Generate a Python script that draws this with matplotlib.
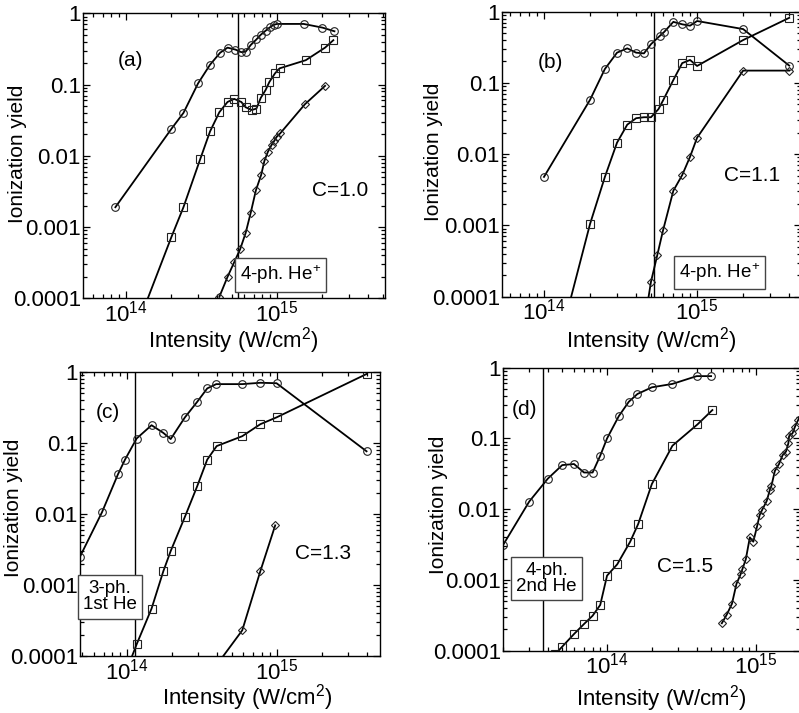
import matplotlib
matplotlib.use("Agg")
import matplotlib.pyplot as plt
from matplotlib.ticker import FixedFormatter, FixedLocator, LogLocator, NullFormatter

plt.rcParams["font.family"] = ["Liberation Sans", "DejaVu Sans"]
plt.rcParams["mathtext.fontset"] = "custom"
plt.rcParams["mathtext.rm"] = "Liberation Sans"
plt.rcParams["mathtext.it"] = "Liberation Sans:italic"

# ---- panel (a), C=1.0 ----
A_CIRC_X = [8.5e13, 2.0e14, 2.4e14, 3.0e14, 3.6e14, 4.2e14, 4.7e14, 5.3e14, 5.8e14, 6.2e14,
            6.7e14, 7.3e14, 7.8e14, 8.4e14, 9.0e14, 9.5e14, 1.0e15, 1.5e15, 2.0e15, 2.4e15]
A_CIRC_Y = [1.9e-3, 0.024, 0.040, 0.104, 0.19, 0.28, 0.33, 0.31, 0.285, 0.29,
            0.36, 0.43, 0.50, 0.57, 0.64, 0.69, 0.71, 0.71, 0.63, 0.56]
A_SQ_X = [1.3e14, 2.0e14, 2.4e14, 3.1e14, 3.6e14, 4.15e14, 4.7e14, 5.2e14, 5.8e14, 6.2e14,
          6.8e14, 7.3e14, 7.8e14, 8.4e14, 8.9e14, 9.7e14, 1.04e15, 1.55e15, 2.08e15, 2.36e15]
A_SQ_Y = [6.8e-5, 7.3e-4, 1.9e-3, 9.0e-3, 0.022, 0.041, 0.057, 0.063, 0.057, 0.048,
          0.044, 0.046, 0.065, 0.084, 0.109, 0.144, 0.169, 0.22, 0.33, 0.42]
A_DIA_X = [4.15e14, 4.7e14, 5.2e14, 5.7e14, 6.2e14, 6.7e14, 7.25e14, 7.85e14, 8.25e14,
           8.7e14, 9.2e14, 9.6e14, 9.95e14, 1.05e15, 1.53e15, 2.08e15]
A_DIA_Y = [1.05e-4, 2.0e-4, 3.2e-4, 4.9e-4, 8.3e-4, 1.6e-3, 3.3e-3, 5.4e-3, 8.5e-3,
           0.0114, 0.0142, 0.0163, 0.0185, 0.0207, 0.053, 0.096]
A_VLINE = 5.55e14

# ---- panel (b), C=1.1 ----
B_CIRC_X = [1.0e14, 2.0e14, 2.5e14, 3.0e14, 3.5e14, 4.0e14, 4.5e14, 5.0e14, 5.7e14, 6.1e14,
            7.0e14, 8.0e14, 9.0e14, 1.0e15, 2.0e15, 4.0e15]
B_CIRC_Y = [4.8e-3, 0.058, 0.157, 0.266, 0.306, 0.266, 0.26, 0.35, 0.456, 0.52,
            0.72, 0.665, 0.636, 0.74, 0.57, 0.175]
B_SQ_X = [1.41e14, 2.0e14, 2.5e14, 3.0e14, 3.5e14, 4.0e14, 4.5e14, 5.0e14, 5.6e14, 6.0e14,
          7.0e14, 8.0e14, 9.0e14, 1.0e15, 2.0e15, 4.0e15]
B_SQ_Y = [5.8e-5, 1.05e-3, 4.8e-3, 0.0145, 0.026, 0.032, 0.033, 0.033, 0.043, 0.057,
          0.11, 0.19, 0.21, 0.173, 0.40, 0.82]
B_DIA_X = [4.7e14, 5.0e14, 5.5e14, 6.0e14, 7.0e14, 8.0e14, 9.0e14, 1.0e15, 2.0e15, 4.0e15]
B_DIA_Y = [7.0e-5, 1.62e-4, 3.85e-4, 8.6e-4, 3.07e-3, 5.1e-3, 9.2e-3, 0.017, 0.149, 0.149]
B_VLINE = 5.26e14

# ---- panel (c), C=1.3 ----
C_CIRC_X = [4.85e13, 6.8e13, 8.7e13, 9.7e13, 1.16e14, 1.46e14, 1.75e14, 1.96e14, 2.44e14,
            2.95e14, 3.44e14, 3.95e14, 5.9e14, 7.8e14, 1.0e15, 4.0e15]
C_CIRC_Y = [2.5e-3, 0.0105, 0.036, 0.058, 0.115, 0.177, 0.138, 0.113, 0.228,
            0.378, 0.583, 0.67, 0.67, 0.70, 0.69, 0.076]
C_SQ_X = [1.0e14, 1.16e14, 1.46e14, 1.75e14, 1.96e14, 2.44e14, 2.95e14, 3.44e14, 3.98e14,
          5.9e14, 7.8e14, 1.0e15, 4.0e15]
C_SQ_Y = [6.5e-5, 1.46e-4, 4.65e-4, 1.56e-3, 3.0e-3, 9.1e-3, 0.0246, 0.058, 0.090,
          0.124, 0.183, 0.228, 0.93]
C_DIA_X = [4.0e14, 5.9e14, 7.8e14, 9.8e14]
C_DIA_Y = [7.6e-5, 2.3e-4, 1.57e-3, 6.9e-3]
C_VLINE = 1.13e14

# ---- panel (d), C=1.5 ----
D_CIRC_X = [2.0e13, 3.0e13, 4.0e13, 5.0e13, 6.0e13, 7.0e13, 8.0e13, 9.0e13, 1.0e14, 1.2e14,
            1.4e14, 1.6e14, 2.0e14, 2.75e14, 4.0e14, 5.0e14]
D_CIRC_Y = [3.1e-3, 0.0128, 0.027, 0.042, 0.0435, 0.033, 0.033, 0.057, 0.10, 0.207,
            0.33, 0.425, 0.528, 0.59, 0.76, 0.76]
D_SQ_X = [4.5e13, 5.0e13, 6.0e13, 7.0e13, 8.0e13, 9.0e13, 1.0e14, 1.17e14, 1.43e14, 1.62e14,
          2.0e14, 2.75e14, 4.05e14, 5.1e14]
D_SQ_Y = [9.0e-5, 1.14e-4, 1.72e-4, 2.38e-4, 3.12e-4, 4.43e-4, 1.15e-3, 1.66e-3, 3.47e-3, 6.2e-3,
          0.0227, 0.079, 0.158, 0.252]
D_DIA_X = [5.9e14, 6.35e14, 6.9e14, 7.4e14, 7.9e14, 8.1e14, 8.55e14, 9.1e14, 9.6e14, 1.02e15,
           1.06e15, 1.1e15, 1.18e15, 1.24e15, 1.27e15, 1.34e15, 1.43e15, 1.51e15, 1.59e15,
           1.65e15, 1.67e15, 1.76e15, 1.83e15, 1.92e15, 2.1e15]
D_DIA_Y = [2.44e-4, 3.2e-4, 4.6e-4, 8.8e-4, 1.21e-3, 1.41e-3, 1.96e-3, 4.0e-3, 3.47e-3, 5.85e-3,
           8.3e-3, 9.75e-3, 0.013, 0.0187, 0.0213, 0.0347, 0.0436, 0.058, 0.065,
           0.085, 0.108, 0.118, 0.147, 0.182, 0.25]
D_VLINE = 3.73e13

YTICKS = [1e-4, 1e-3, 1e-2, 1e-1, 1]
YTICK_LABELS = ["0.0001", "0.001", "0.01", "0.1", "1"]
XTICKS = [1e13, 1e14, 1e15, 1e16]
XTICK_LABELS = ["$10^{13}$", "$10^{14}$", "$10^{15}$", "$10^{16}$"]

TICK_FS = 16
XLABEL_FS = 16
YLABEL_FS = 15
NOTE_FS = 13.5


def style_axes(ax, xlim):
    ax.set_xscale("log")
    ax.set_yscale("log")
    ax.set_xlim(*xlim)
    ax.set_ylim(1e-4, 1)
    ax.xaxis.set_major_locator(FixedLocator(XTICKS))
    ax.xaxis.set_major_formatter(FixedFormatter(XTICK_LABELS))
    ax.yaxis.set_major_locator(FixedLocator(YTICKS))
    ax.yaxis.set_major_formatter(FixedFormatter(YTICK_LABELS))
    for axis in (ax.xaxis, ax.yaxis):
        axis.set_minor_locator(LogLocator(base=10, subs=range(2, 10), numticks=20))
        axis.set_minor_formatter(NullFormatter())
    ax.tick_params(which="both", direction="in", top=True, right=True, labelsize=TICK_FS, width=0.9)
    ax.tick_params(which="major", length=5, pad=1.5)
    ax.tick_params(which="minor", length=3)
    for sp in ax.spines.values():
        sp.set_linewidth(1.0)
    ax.set_xlabel("Intensity (W/cm$^2$)", fontsize=XLABEL_FS)
    ax.set_ylabel("Ionization yield", fontsize=YLABEL_FS)


def draw_series(ax, x, y, marker, ms):
    ax.plot(x, y, color="black", linewidth=1.3, marker=marker, markersize=ms,
            markerfacecolor="none", markeredgecolor="#222222", markeredgewidth=0.8)


def panel(fig, rect, xlim, circ, sq, dia, vline, tag, tag_xy, cval, c_xy, note, note_xy, xl_xy, yl_xy):
    ax = fig.add_axes(rect)
    ax.axvline(vline, color="black", linewidth=1.0)
    draw_series(ax, *circ, "o", 5.5)
    draw_series(ax, *sq, "s", 5.5)
    draw_series(ax, *dia, "D", 4.0)
    style_axes(ax, xlim)
    ax.text(*tag_xy, tag, transform=ax.transAxes, fontsize=15, ha="center", va="center")
    ax.text(*c_xy, cval, transform=ax.transAxes, fontsize=15, ha="center", va="center")
    ax.text(*note_xy, note, transform=ax.transAxes, fontsize=NOTE_FS, ha="center", va="center",
            linespacing=0.95, zorder=5,
            bbox=dict(boxstyle="square,pad=0.28", facecolor="white", edgecolor="#444444", linewidth=1.0))
    ax.xaxis.set_label_coords(*xl_xy)
    ax.yaxis.set_label_coords(*yl_xy)
    return ax


def main():
    fig = plt.figure(figsize=(7.99, 7.13), dpi=100)

    panel(fig, [0.1039, 0.5816, 0.378, 0.3997], (5.19e13, 5.19e15),
          (A_CIRC_X, A_CIRC_Y), (A_SQ_X, A_SQ_Y), (A_DIA_X, A_DIA_Y), A_VLINE,
          "(a)", (0.156, 0.836), "C=1.0", (0.851, 0.38),
          "4-ph. He$^{+}$", (0.654, 0.082), (0.497, -0.094), (-0.185, 0.506))

    panel(fig, [0.6283, 0.5839, 0.3736, 0.3997], (5.32e13, 4.74e15),
          (B_CIRC_X, B_CIRC_Y), (B_SQ_X, B_SQ_Y), (B_DIA_X, B_DIA_Y), B_VLINE,
          "(b)", (0.161, 0.823), "C=1.1", (0.8375, 0.4235),
          "4-ph. He$^{+}$", (0.7286, 0.085), (0.5, -0.098), (-0.198, 0.508))

    panel(fig, [0.1001, 0.0799, 0.3755, 0.3987], (4.85e13, 4.92e15),
          (C_CIRC_X, C_CIRC_Y), (C_SQ_X, C_SQ_Y), (C_DIA_X, C_DIA_Y), C_VLINE,
          "(c)", (0.093, 0.858), "C=1.3", (0.81, 0.362),
          "3-ph.\n1st He", (0.1, 0.209), (0.557, -0.09), (-0.19, 0.52))

    panel(fig, [0.6295, 0.0874, 0.3723, 0.3969], (2.0e13, 1.99e15),
          (D_CIRC_X, D_CIRC_Y), (D_SQ_X, D_SQ_Y), (D_DIA_X, D_DIA_Y), D_VLINE,
          "(d)", (0.074, 0.854), "C=1.5", (0.612, 0.296),
          "4-ph.\n2nd He", (0.147, 0.255), (0.531, -0.115), (-0.185, 0.515))

    fig.savefig("out.png", dpi=100)
    plt.close(fig)


if __name__ == "__main__":
    main()
